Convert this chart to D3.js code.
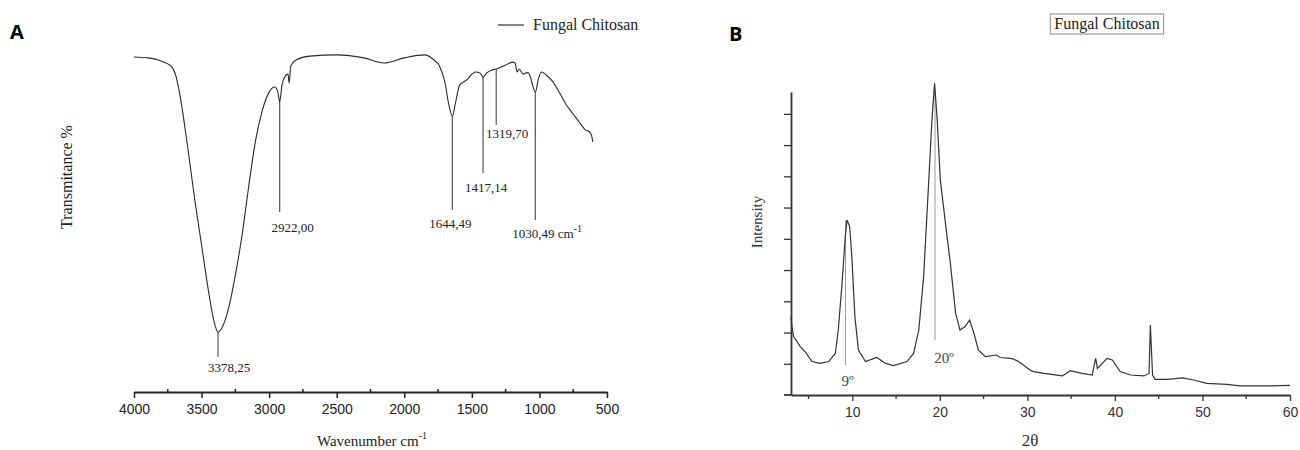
<!DOCTYPE html>
<html>
<head>
<meta charset="utf-8">
<script src="https://cdn.jsdelivr.net/npm/d3@7"></script>
<style>
  html, body { margin: 0; padding: 0; background: #fff; }
  svg { display: block; }
</style>
</head>
<body>
<svg id="chart" width="1300" height="450"></svg>
<script>
// ---------------- DATA ----------------
// Panel A: FTIR spectrum (wavenumber cm-1, transmittance, arbitrary %)
const ftirWavenumber = [4000, 3900, 3800, 3750, 3720, 3690, 3660, 3600, 3550, 3500, 3450, 3410, 3378, 3350, 3300, 3250, 3200, 3150, 3100, 3050, 3000, 2960, 2935, 2922, 2905, 2880, 2860, 2852, 2840, 2800, 2700, 2500, 2300, 2150, 2000, 1850, 1780, 1740, 1700, 1670, 1644, 1620, 1590, 1560, 1530, 1500, 1470, 1440, 1417, 1390, 1350, 1319, 1250, 1200, 1180, 1165, 1150, 1120, 1100, 1080, 1065, 1030, 1010, 985, 950, 900, 850, 800, 750, 700, 660, 630, 615, 605];
const ftirTransmittance = [96, 95.7, 94.7, 93.7, 92.7, 89.7, 83.3, 65, 48.3, 33.3, 18.3, 8.3, 4.3, 5.7, 12.3, 23.3, 36.7, 53.3, 68.3, 78.3, 84.3, 86, 84.3, 81, 86.7, 89.7, 90.3, 87.3, 93, 95, 96.3, 96.7, 95.7, 94, 95.7, 96.7, 95, 93, 87.7, 80, 76.3, 81, 86.7, 87.7, 88.7, 90.3, 91, 90.7, 89.3, 90.7, 91.7, 92, 93.3, 94.3, 94, 91, 92, 90.3, 90.7, 90.7, 89, 84.3, 88.3, 91, 90, 87.7, 84, 80, 77, 74, 71.7, 71, 70, 67.7];
const ftirTicks = [4000, 3500, 3000, 2500, 2000, 1500, 1000, 500];
const ftirMinorTicks = [3750, 3250, 2750, 2250, 1750, 1250, 750];
// Peak annotations: wavenumber, label, line top (T), line bottom (T)
const ftirPeakWavenumber = [3378.25, 2922.00, 1644.49, 1417.14, 1319.70, 1030.49];
const ftirPeakLabels = ["3378,25", "2922,00", "1644,49", "1417,14", "1319,70", "1030,49 cm"];
const ftirPeakTop = [4.3, 81, 76.3, 89.3, 92, 84.3];
const ftirPeakBottom = [-4, 44.3, 45, 57.3, 73.3, 41.7];

// Panel B: XRD pattern (2θ degrees, intensity a.u.)
const xrdTheta = [3.0, 3.1, 3.3, 4.06, 4.6, 5.4, 6.3, 7.3, 8.06, 8.4, 8.8, 9.2, 9.4, 9.7, 9.95, 10.3, 10.7, 11.5, 12.8, 13.8, 14.7, 16.25, 17.0, 17.6, 18.15, 18.7, 19.1, 19.4, 19.7, 20.06, 20.6, 21.2, 21.8, 22.3, 22.9, 23.4, 23.9, 24.4, 25.2, 26.5, 26.9, 28.06, 28.4, 29.0, 30.3, 30.7, 31.9, 32.6, 34.0, 34.9, 36.25, 37.4, 37.8, 38.0, 39.1, 39.7, 40.6, 41.8, 43.3, 43.9, 44.05, 44.3, 44.6, 46.0, 47.7, 49.0, 50.5, 52.8, 54.3, 57.4, 60];
const xrdIntensity = [2.5, 2.19, 1.87, 1.55, 1.39, 1.07, 1.01, 1.07, 1.33, 2.08, 3.47, 5.07, 5.6, 5.39, 4.43, 2.5, 1.44, 1.07, 1.2, 1.01, 0.94, 1.07, 1.33, 2.08, 3.79, 6.67, 8.8, 9.98, 8.8, 6.88, 5.6, 4.22, 2.62, 2.08, 2.19, 2.4, 1.97, 1.44, 1.23, 1.28, 1.2, 1.17, 1.15, 1.07, 0.8, 0.75, 0.69, 0.67, 0.61, 0.78, 0.69, 0.64, 1.17, 0.85, 1.17, 1.12, 0.75, 0.64, 0.61, 0.69, 2.24, 0.64, 0.5, 0.5, 0.55, 0.48, 0.37, 0.34, 0.29, 0.29, 0.31];
const xrdTicks = [10, 20, 30, 40, 50, 60];
const xrdMinorTicks = [5, 15, 25, 35, 45, 55];
const xrdYTicks = [1, 2, 3, 4, 5, 6, 7, 8, 9];
const xrdPeakTheta = [9.23, 19.45];
const xrdPeakLabels = ["9º", "20º"];
const xrdPeakTop = [5.6, 9.76];
const xrdPeakBottom = [0.96, 1.76];

const seriesName = "Fungal Chitosan";

// ---------------- DRAWING ----------------
const svg = d3.select("#chart");
const serif = "'Liberation Serif', 'Times New Roman', serif";
const sans = "'Liberation Sans', Arial, sans-serif";

// ===== Panel A =====
const xA = d3.scaleLinear().domain([4000, 500]).range([134, 607]);
const yA = d3.scaleLinear().domain([0, 100]).range([345, 45]);
const axisYA = 392;

const gA = svg.append("g");
gA.append("text").attr("x", 10).attr("y", 39)
  .attr("font-family", "'Open Sans', sans-serif").attr("font-weight", "bold")
  .attr("font-size", 20).attr("fill", "#000").text("A");

// curve
const lineA = d3.line().x((d, i) => xA(ftirWavenumber[i])).y((d, i) => yA(ftirTransmittance[i])).curve(d3.curveMonotoneX);
gA.append("path").datum(ftirWavenumber).attr("d", lineA)
  .attr("fill", "none").attr("stroke", "#2a2a2a").attr("stroke-width", 1.1);

// annotations
const labelDx = [11, 13, -2, 3, 11, 0];
const labelDy = [15, 20, 18, 19, 13, 18];
ftirPeakWavenumber.forEach((w, i) => {
  const x = xA(w);
  gA.append("line").attr("x1", x).attr("x2", x)
    .attr("y1", yA(ftirPeakTop[i])).attr("y2", yA(ftirPeakBottom[i]))
    .attr("stroke", "#555").attr("stroke-width", 1.2);
  const t = gA.append("text")
    .attr("y", yA(ftirPeakBottom[i]) + labelDy[i])
    .attr("font-family", serif).attr("font-size", 13).attr("fill", "#222");
  if (i === 5) {
    t.attr("x", x - 23).attr("text-anchor", "start").text(ftirPeakLabels[i]);
    t.append("tspan").attr("dy", -6).attr("font-size", 10).text("-1");
  } else {
    t.attr("x", x + labelDx[i]).attr("text-anchor", "middle").text(ftirPeakLabels[i]);
  }
});

// x axis
const axA = d3.axisBottom(xA).tickValues(ftirTicks).tickSize(6).tickSizeOuter(0).tickFormat(d3.format("d"));
const gAx = gA.append("g").attr("transform", `translate(0,${axisYA})`).call(axA);
gAx.select(".domain").attr("stroke", "#222").attr("stroke-width", 1.8);
gAx.selectAll(".tick line").attr("stroke", "#222").attr("stroke-width", 1.5);
gAx.selectAll(".tick text").attr("font-family", sans).attr("font-size", 14).attr("fill", "#222").attr("dy", "0.9em");
gA.selectAll(".minorA").data(ftirMinorTicks).enter().append("line")
  .attr("x1", d => xA(d)).attr("x2", d => xA(d))
  .attr("y1", axisYA - 3).attr("y2", axisYA)
  .attr("stroke", "#222").attr("stroke-width", 1.5);

// axis titles
const xtA = gA.append("text").attr("x", 372).attr("y", 446).attr("text-anchor", "middle")
  .attr("font-family", serif).attr("font-size", 15).attr("fill", "#222").text("Wavenumber cm");
xtA.append("tspan").attr("dy", -7).attr("font-size", 10).text("-1");
gA.append("text").attr("transform", "translate(72,177) rotate(-90)").attr("text-anchor", "middle")
  .attr("font-family", serif).attr("font-size", 16).attr("fill", "#222").text("Transmitance %");

// legend
gA.append("line").attr("x1", 498).attr("x2", 524).attr("y1", 25).attr("y2", 25)
  .attr("stroke", "#222").attr("stroke-width", 1.1);
gA.append("text").attr("x", 533).attr("y", 30).attr("font-family", serif)
  .attr("font-size", 16).attr("fill", "#222").text(seriesName);

// ===== Panel B =====
const xB = d3.scaleLinear().domain([3, 60]).range([791, 1290]);
const yB = d3.scaleLinear().domain([0, 9.7]).range([395, 92]);

const gB = svg.append("g");
gB.append("text").attr("x", 729).attr("y", 41)
  .attr("font-family", "'Open Sans', sans-serif").attr("font-weight", "bold")
  .attr("font-size", 20).attr("fill", "#000").text("B");

// peak lines (under curve)
xrdPeakTheta.forEach((t, i) => {
  gB.append("line").attr("x1", xB(t)).attr("x2", xB(t))
    .attr("y1", yB(xrdPeakTop[i])).attr("y2", yB(xrdPeakBottom[i]))
    .attr("stroke", "#999").attr("stroke-width", 1);
});
gB.append("text").attr("x", xB(xrdPeakTheta[0]) + 2).attr("y", yB(xrdPeakBottom[0]) + 21)
  .attr("text-anchor", "middle").attr("font-family", serif).attr("font-size", 15).attr("fill", "#444").text(xrdPeakLabels[0]);
gB.append("text").attr("x", xB(xrdPeakTheta[1]) + 9).attr("y", yB(xrdPeakBottom[1]) + 23)
  .attr("text-anchor", "middle").attr("font-family", serif).attr("font-size", 15).attr("fill", "#444").text(xrdPeakLabels[1]);

// curve
const lineB = d3.line().x((d, i) => xB(xrdTheta[i])).y((d, i) => yB(xrdIntensity[i]));
gB.append("path").datum(xrdTheta).attr("d", lineB)
  .attr("fill", "none").attr("stroke", "#333").attr("stroke-width", 1.2);

// y axis
const ayB = d3.axisLeft(yB).tickValues(xrdYTicks).tickSize(7).tickSizeOuter(0).tickFormat("");
const gBy = gB.append("g").attr("transform", `translate(${xB(3)},0)`).call(ayB);
gBy.select(".domain").attr("stroke", "#333").attr("stroke-width", 1.8);
gBy.selectAll(".tick line").attr("stroke", "#333").attr("stroke-width", 1.3);

// x axis
const axB = d3.axisBottom(xB).tickValues(xrdTicks).tickSize(6).tickSizeOuter(0).tickFormat(d3.format("d"));
const gBx = gB.append("g").attr("transform", `translate(0,${yB(0)})`).call(axB);
gBx.select(".domain").attr("stroke", "#333").attr("stroke-width", 1.8);
gBx.selectAll(".tick line").attr("stroke", "#333").attr("stroke-width", 1.3);
gBx.selectAll(".tick text").attr("font-family", sans).attr("font-size", 14).attr("fill", "#333").attr("dy", "0.9em");
gB.append("line").attr("x1", xB(3) - 7).attr("x2", xB(3)).attr("y1", yB(0)).attr("y2", yB(0))
  .attr("stroke", "#333").attr("stroke-width", 1.8);
gB.selectAll(".minorB").data(xrdMinorTicks).enter().append("line")
  .attr("x1", d => xB(d)).attr("x2", d => xB(d))
  .attr("y1", yB(0)).attr("y2", yB(0) + 4)
  .attr("stroke", "#333").attr("stroke-width", 1.3);

// titles
gB.append("text").attr("x", 1030).attr("y", 446).attr("text-anchor", "middle")
  .attr("font-family", serif).attr("font-size", 17).attr("fill", "#333").text("2θ");
gB.append("text").attr("transform", "translate(762,222) rotate(-90)").attr("text-anchor", "middle")
  .attr("font-family", serif).attr("font-size", 15).attr("fill", "#333").text("Intensity");

// legend box
const lgText = gB.append("text").attr("x", 1107).attr("y", 29).attr("text-anchor", "middle")
  .attr("font-family", serif).attr("font-size", 16).attr("fill", "#222").text(seriesName);
const bb = lgText.node().getBBox();
gB.insert("rect", "text").attr("x", bb.x - 4).attr("y", bb.y - 1).attr("width", bb.width + 8).attr("height", bb.height + 2)
  .attr("fill", "none").attr("stroke", "#888").attr("stroke-width", 1);
</script>
</body>
</html>
